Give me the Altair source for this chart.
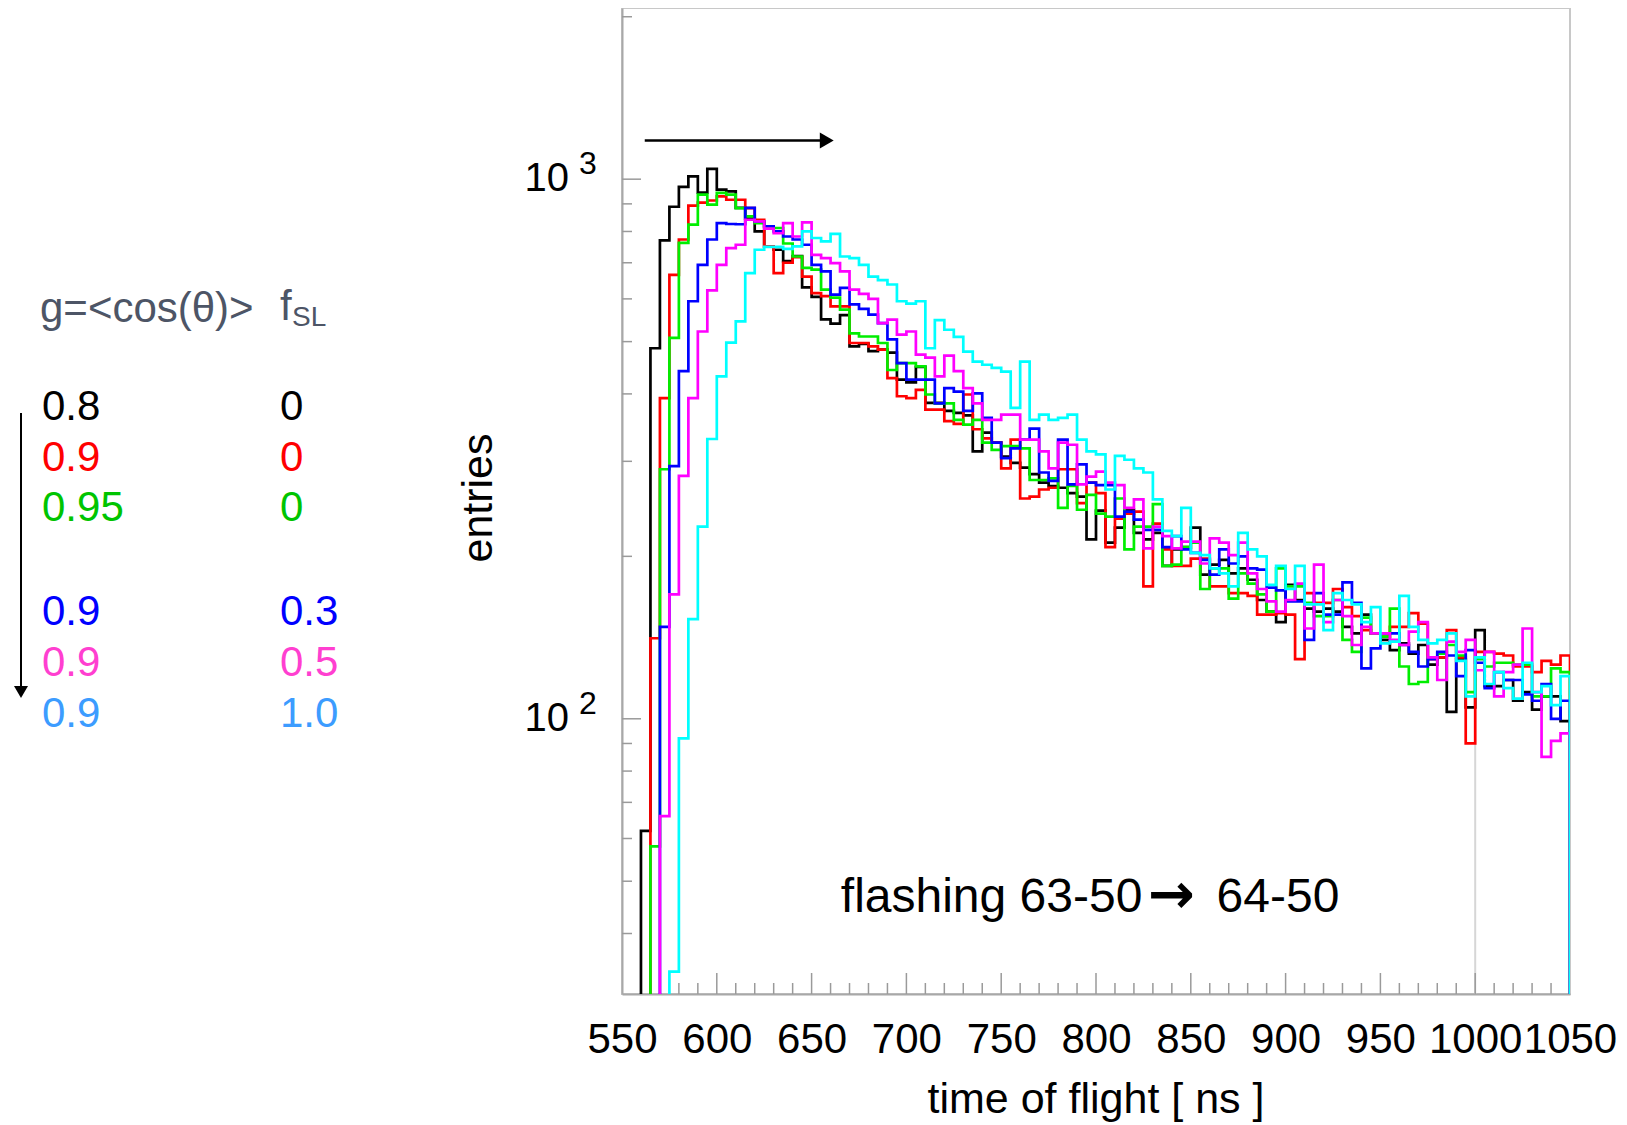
import altair as alt
import pandas as pd

FONT = "Liberation Sans"

# ---------------- data (5 ns bins starting at 550 ns) ----------------
T0 = 550
BIN = 5

black = [0, 0, 62, 486, 770, 889, 968, 1012, 944, 1045,
         956, 949, 885, 845, 800, 750, 740, 705, 720, 630,
         605, 550, 540, 560, 490, 495, 480, 483, 477, 425,
         420, 449, 385, 385, 372, 369, 365, 313, 339, 325,
         306, 298, 292, 284, 274, 270, 268, 262, 258, 215,
         243, 212, 226, 244, 221, 215, 221, 192, 206, 208,
         226, 185, 193, 197, 186, 190, 181, 166, 158, 151,
         177, 166, 160, 158, 160, 158, 148, 144, 156, 144,
         140, 134, 138, 132, 137, 126, 130, 103, 129, 105,
         146, 115, 115, 118, 108, 112, 104, 110, 110, 99]

red = [0, 0, 0, 141, 393, 665, 773, 893, 905, 913,
       929, 916, 916, 884, 841, 751, 670, 700, 717, 660,
       615, 607, 581, 581, 497, 497, 490, 483, 428, 396,
       393, 407, 374, 374, 356, 352, 399, 344, 331, 325,
       291, 329, 256, 258, 266, 268, 290, 290, 251, 274,
       262, 208, 235, 240, 242, 176, 230, 206, 192, 192,
       198, 198, 176, 176, 171, 171, 169, 156, 156, 157,
       156, 129, 171, 164, 164, 174, 161, 155, 146, 144,
       142, 148, 148, 157, 150, 129, 130, 146, 130, 90,
       133, 133, 132, 131, 125, 125, 122, 128, 126, 131]

green = [0, 0, 0, 58, 290, 508, 762, 824, 936, 897,
         943, 936, 884, 853, 829, 816, 812, 760, 719, 685,
         680, 624, 603, 573, 518, 511, 511, 497, 443, 456,
         456, 450, 399, 384, 384, 358, 351, 358, 325, 315,
         320, 320, 317, 277, 277, 279, 246, 270, 244, 260,
         240, 237, 256, 206, 227, 227, 250, 192, 193, 208,
         212, 174, 190, 190, 167, 186, 178, 170, 158, 190,
         176, 176, 164, 155, 155, 166, 140, 133, 154, 144,
         142, 160, 125, 116, 117, 130, 132, 137, 131, 112,
         129, 125, 127, 127, 126, 126, 110, 110, 124, 122]

blue = [0, 0, 0, 0, 148, 294, 441, 594, 694, 773,
        829, 826, 825, 885, 835, 818, 800, 783, 773, 756,
        694, 675, 611, 629, 586, 575, 561, 541, 505, 456,
        425, 425, 425, 384, 410, 404, 372, 401, 361, 325,
        304, 317, 329, 345, 286, 276, 329, 272, 296, 274,
        271, 271, 237, 242, 234, 224, 224, 208, 218, 206,
        203, 197, 185, 206, 194, 200, 190, 189, 175, 173,
        165, 165, 140, 171, 156, 156, 179, 164, 124, 135,
        144, 144, 137, 133, 125, 129, 133, 131, 120, 134,
        127, 114, 122, 118, 118, 111, 108, 116, 100, 108]

magenta = [0, 0, 0, 0, 66, 170, 282, 393, 522, 622,
           694, 745, 756, 841, 835, 810, 794, 829, 783, 832,
           724, 714, 699, 675, 624, 613, 600, 541, 549, 515,
           522, 473, 467, 431, 471, 441, 410, 384, 358, 358,
           366, 366, 329, 329, 313, 291, 325, 322, 272, 281,
           287, 274, 271, 246, 255, 207, 227, 218, 207, 213,
           213, 194, 216, 212, 201, 212, 186, 174, 165, 158,
           166, 178, 147, 193, 151, 166, 155, 137, 148, 144,
           144, 140, 137, 145, 151, 130, 118, 139, 133, 140,
           123, 133, 110, 122, 126, 147, 112, 85, 91, 94]

cyan = [0, 0, 0, 0, 0, 34, 92, 153, 227, 330,
        431, 498, 545, 670, 740, 749, 749, 743, 751, 800,
        778, 767, 792, 719, 714, 694, 660, 650, 638, 594,
        588, 594, 486, 548, 526, 510, 479, 459, 453, 447,
        440, 377, 459, 358, 366, 358, 361, 366, 329, 313,
        309, 266, 307, 302, 291, 286, 255, 223, 218, 246,
        203, 201, 190, 186, 176, 221, 206, 200, 177, 192,
        174, 192, 163, 163, 146, 171, 166, 163, 151, 161,
        138, 139, 169, 148, 140, 138, 140, 144, 128, 110,
        130, 116, 122, 114, 109, 127, 112, 115, 106, 120]

series = [("g=0.8 fSL=0", black, "#000000"),
          ("g=0.9 fSL=0", red, "#ff0000"),
          ("g=0.95 fSL=0", green, "#00ee00"),
          ("g=0.9 fSL=0.3", blue, "#0000ff"),
          ("g=0.9 fSL=0.5", magenta, "#ff00ff"),
          ("g=0.9 fSL=1.0", cyan, "#00ffff")]

g_vals = ["0.8", "0.9", "0.95", "0.9", "0.9", "0.9"]
fsl_vals = ["0", "0", "0", "0.3", "0.5", "1.0"]
row_colors = ["#000000", "#ff0000", "#00c400", "#0000ff", "#ff3fd0", "#3c9cff"]

x_labels = list(range(550, 1051, 50))
x_minor = [t for t in range(560, 1050, 10) if t % 50 != 0]
x_major = list(range(600, 1001, 50))
y_major = [100, 1000]
y_minor = [40, 50, 60, 70, 80, 90, 200, 300, 400, 500, 600, 700, 800, 900, 2000]
y_label_vals = [100, 1000]
y_label_exp = ["2", "3"]

# ---------------- layout ----------------
W, H = 948, 986
FLOOR = 1.0  # empty bins drawn below the axis
AX_COLOR = "#a8a8a8"

xs = alt.Scale(domain=[550, 1050], nice=False, zero=False)
ys = alt.Scale(type="log", domain=[30.9, 2076], nice=False)

xaxis = alt.Axis(values=x_labels, ticks=False, tickSize=0, labelFontSize=42,
                 labelFont=FONT, labelColor="black", labelPadding=25,
                 labelFlush=False, labelOverlap=False, domainColor=AX_COLOR,
                 domainWidth=2, grid=False, title=None, format="d")
yaxis = alt.Axis(labels=False, ticks=False, tickSize=0, domainColor=AX_COLOR,
                 domainWidth=2, grid=False, title=None)

layers = []

# light grey line at 1000 ns
grey_df = pd.DataFrame({"t": [1000], "v": [105], "v2": [30.9]})
layers.append(alt.Chart(grey_df).mark_rule(color="#d6d6d6", strokeWidth=2).encode(
    x=alt.X("t:Q", scale=xs, axis=xaxis),
    y=alt.Y("v:Q", scale=ys, axis=yaxis), y2="v2:Q"))

# inward ticks
def xticks(vals, length):
    return alt.Chart(pd.DataFrame({"t": vals})).mark_rule(color="#9a9a9a", strokeWidth=1.5).encode(
        x=alt.X("t:Q", scale=xs, axis=xaxis), y=alt.value(H), y2=alt.value(H - length))

def yticks(vals, length):
    return alt.Chart(pd.DataFrame({"v": vals})).mark_rule(color="#9a9a9a", strokeWidth=1.5).encode(
        y=alt.Y("v:Q", scale=ys, axis=yaxis), x=alt.value(0), x2=alt.value(length))

layers += [xticks(x_minor, 11), xticks(x_major, 21), yticks(y_minor, 10), yticks(y_major, 19)]

# histograms
for name, vals, col in series:
    recs = [{"t": T0 + BIN * k, "v": (v if v > 0 else FLOOR), "i": k} for k, v in enumerate(vals)]
    recs.append({"t": 1050, "v": recs[-1]["v"], "i": len(vals)})
    recs.append({"t": 1050, "v": FLOOR, "i": len(vals) + 1})
    df = pd.DataFrame(recs)
    layers.append(alt.Chart(df).mark_line(interpolate="step-after", color=col,
                                          strokeWidth=2.7, clip=True).encode(
        x=alt.X("t:Q", scale=xs, axis=xaxis),
        y=alt.Y("v:Q", scale=ys, axis=yaxis),
        order="i:Q"))

# y-axis labels 10^n
ylab_df = pd.DataFrame({"v": y_label_vals, "base": ["10", "10"], "exp": y_label_exp})
layers.append(alt.Chart(ylab_df).mark_text(align="right", baseline="middle", fontSize=40,
                                           font=FONT, color="black").encode(
    x=alt.value(-53), y=alt.Y("v:Q", scale=ys, axis=yaxis), text="base:N"))
layers.append(alt.Chart(ylab_df).mark_text(align="left", baseline="middle", fontSize=32,
                                           font=FONT, color="black", dy=-15).encode(
    x=alt.value(-43), y=alt.Y("v:Q", scale=ys, axis=yaxis), text="exp:N"))

# arrow inside the plot
arrow_df = pd.DataFrame({"t": [562.0], "t2": [658.0], "v": [1180.0]})
layers.append(alt.Chart(arrow_df).mark_rule(color="black", strokeWidth=2.5).encode(
    x=alt.X("t:Q", scale=xs, axis=xaxis), x2="t2:Q", y=alt.Y("v:Q", scale=ys, axis=yaxis)))
layers.append(alt.Chart(arrow_df).mark_point(shape="triangle-right", filled=True, size=256,
                                             color="black", opacity=1).encode(
    x=alt.X("t2:Q", scale=xs, axis=xaxis), y=alt.Y("v:Q", scale=ys, axis=yaxis)))

# annotation text: "flashing 63-50 -> 64-50"
ann_df = pd.DataFrame({"t": [665.4, 839.8, 863.6], "v": [46.5, 46.5, 46.5],
                       "txt": ["flashing 63-50", "\u2192", "64-50"]})
layers.append(alt.Chart(ann_df.iloc[[0, 2]]).mark_text(align="left", baseline="middle", fontSize=48,
                                                       font=FONT, color="black").encode(
    x=alt.X("t:Q", scale=xs, axis=xaxis), y=alt.Y("v:Q", scale=ys, axis=yaxis), text="txt:N"))
layers.append(alt.Chart(ann_df.iloc[[1]]).mark_text(align="center", baseline="middle", fontSize=56,
                                                    font="DejaVu Sans", fontWeight="bold",
                                                    color="black", dy=-2).encode(
    x=alt.X("t:Q", scale=xs, axis=xaxis), y=alt.Y("v:Q", scale=ys, axis=yaxis), text="txt:N"))

# helper for free-standing text
def label(txt, px, py, size, color="black", align="left", angle=0):
    props = dict(align=align, baseline="middle", fontSize=size, font=FONT, color=color)
    if angle:
        props["angle"] = angle
    return alt.Chart(pd.DataFrame({"txt": [txt]})).mark_text(**props).encode(
        x=alt.value(px), y=alt.value(py), text="txt:N")

layers.append(label("time of flight [ ns ]", W / 2, 1092, 43, align="center"))
layers.append(label("entries", -143, H / 2 - 3, 43, align="center", angle=270))

# left-hand legend
HEAD = "#4d5566"
layers.append(label("g=<cos(\u03b8)>", -582, 301, 42, HEAD))
layers.append(label("f", -342, 299, 42, HEAD))
layers.append(label("SL", -330, 310, 28, HEAD))
row_y = [398.7, 449.6, 500.4, 604.2, 655.0, 705.9]
for gv, fv, col, ry in zip(g_vals, fsl_vals, row_colors, row_y):
    layers.append(label(gv, -580, ry, 42, col))
    layers.append(label(fv, -342, ry, 42, col))

# vertical arrow on the left
layers.append(alt.Chart(pd.DataFrame({"a": [0]})).mark_rule(color="black", strokeWidth=2).encode(
    x=alt.value(-601), y=alt.value(405), y2=alt.value(684)))
layers.append(alt.Chart(pd.DataFrame({"a": [0]})).mark_point(shape="triangle-down", filled=True,
                                                             size=196, color="black", opacity=1).encode(
    x=alt.value(-601), y=alt.value(684)))

chart = alt.layer(*layers).properties(
    width=W, height=H,
    padding={"left": 614, "top": 0, "right": 48, "bottom": 134},
    autosize=alt.AutoSizeParams(type="none"),
    background="white",
).configure_view(stroke="#c8c8c8", strokeWidth=2)

chart.save("out.html", embed_options={"renderer": "svg", "actions": False})
